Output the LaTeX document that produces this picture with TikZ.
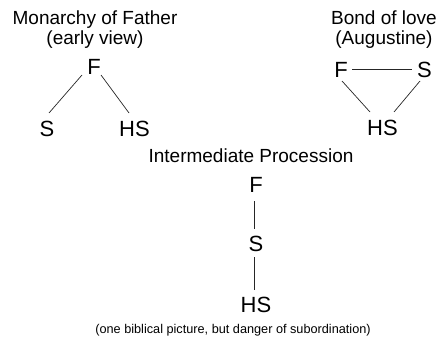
\documentclass[tikz,border=0pt]{standalone}
\usepackage{fontspec}
\setmainfont{Liberation Sans}
\begin{document}
\begin{tikzpicture}[x=1pt,y=-1pt,
  letter/.style={inner sep=0pt,font=\fontsize{22}{24}\selectfont},
  title/.style={inner sep=0pt,anchor=base,align=center,font=\fontsize{19}{19.5}\selectfont},
  caption/.style={inner sep=0pt,anchor=base,font=\fontsize{12.7}{14}\selectfont},
  link/.style={line width=0.7pt,draw=black!85}]
\useasboundingbox (0,0) rectangle (442,337);
% titles (base anchor = baseline of the last line)
\node[title] (t1) at (95,44.3) {Monarchy of Father\\(early view)};
\node[title] (t2) at (384,44.3) {Bond of love\\(Augustine)};
\node[title] (t3) at (251,162) {Intermediate Procession};
\node[caption] (cap) at (233,333) {(one biblical picture, but danger of subordination)};
% left tree
\node[letter] (lF) at (94,67) {F};
\node[letter] (lS) at (47,128.5) {S};
\node[letter] (lHS) at (134.5,128.5) {HS};
\draw[link] ([shift={(-12,8)}]lF.center) -- ([shift={(2,-15.5)}]lS.center);
\draw[link] ([shift={(7,8)}]lF.center) -- ([shift={(-5.5,-15.5)}]lHS.center);
% right triangle
\node[letter] (rF) at (341,69.5) {F};
\node[letter] (rS) at (424.5,69.5) {S};
\node[letter] (rHS) at (382.5,127.5) {HS};
\draw[link] ([shift={(11,-0.5)}]rF.center) -- ([shift={(-12.5,-0.5)}]rS.center);
\draw[link] ([shift={(1,11.5)}]rF.center) -- ([shift={(-12.5,-15.5)}]rHS.center);
\draw[link] ([shift={(-4.5,11.5)}]rS.center) -- ([shift={(11.5,-15.5)}]rHS.center);
% middle chain
\node[letter] (mF) at (256,184.5) {F};
\node[letter] (mS) at (256,243.5) {S};
\node[letter] (mHS) at (256,304.5) {HS};
\draw[link] ([shift={(-1.5,16.5)}]mF.center) -- ([shift={(-1.5,-14.5)}]mS.center);
\draw[link] ([shift={(-1.5,13.5)}]mS.center) -- ([shift={(-1.5,-14.5)}]mHS.center);
\end{tikzpicture}
\end{document}
